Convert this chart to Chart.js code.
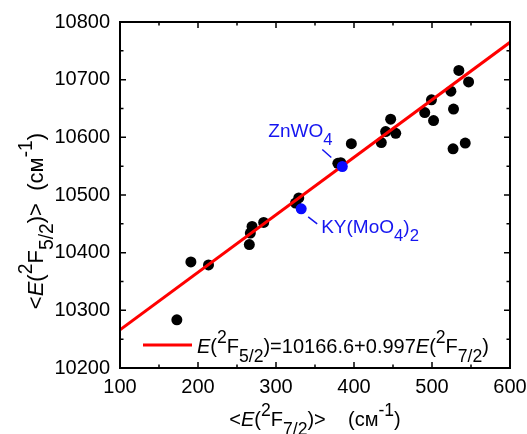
<!DOCTYPE html>
<html lang="en">
<head>
<meta charset="UTF-8">
<title>E(2F5/2) vs E(2F7/2)</title>
<style>
  body { margin: 0; background: #fff; }
  canvas { display: block; }
</style>
<script src="https://cdn.jsdelivr.net/npm/chart.js"></script>
</head>
<body>
<canvas id="fitChart" width="527" height="434"></canvas>
<script>
// black points: <E(2F7/2)> and <E(2F5/2)> in cm-1
const blackX = [172.9, 190.9, 213.5, 265.8, 267.1, 269.3, 284.2, 325, 329.2, 379.3, 383,
  396.6, 435, 440.6, 447, 453.5, 490.7, 499.3, 502, 524.2, 527.6, 527, 534.4, 542.6, 546.9];
const blackY = [10283.5, 10383.9, 10378.7, 10414, 10434, 10445.5, 10452.5, 10486, 10495, 10555, 10556,
  10589, 10591, 10610, 10631.5, 10607, 10643, 10665, 10629, 10680, 10649, 10580, 10716, 10590, 10696];

// highlighted crystals
const blueNames = ["ZnWO4", "KY(MoO4)2"];
const blueX = [385, 332.3];
const blueY = [10549.4, 10476];

// fitted line ends
const fitX = [100, 600];
const fitY = [10266.3, 10764.8];

const xTicks = [100, 200, 300, 400, 500, 600];
const yTicks = [10200, 10300, 10400, 10500, 10600, 10700, 10800];

const FONT = '"Liberation Sans", Arial, sans-serif';

function pts(xs, ys) {
  return xs.map((x, i) => ({ x: x, y: ys[i] }));
}

// draw text made of pieces: n = normal, i = italic, sup, sub
function richText(ctx, segs, x, y, size, align) {
  const small = size * 0.88;
  const fontOf = s => {
    if (s.k === 'i') return 'italic ' + size + 'px ' + FONT;
    if (s.k === 'sup' || s.k === 'sub') return small + 'px ' + FONT;
    return size + 'px ' + FONT;
  };
  let total = 0;
  segs.forEach(s => { ctx.font = fontOf(s); total += ctx.measureText(s.t).width; });
  let cx = align === 'center' ? x - total / 2 : x;
  ctx.textAlign = 'left';
  ctx.textBaseline = 'alphabetic';
  segs.forEach(s => {
    ctx.font = fontOf(s);
    let dy = 0;
    if (s.k === 'sup') dy = -size * 0.5;
    if (s.k === 'sub') dy = size * 0.45;
    ctx.fillText(s.t, cx, y + dy);
    cx += ctx.measureText(s.t).width;
  });
}

const xTitle = [
  { t: '<' }, { t: 'E', k: 'i' }, { t: '(' }, { t: '2', k: 'sup' }, { t: 'F' }, { t: '7/2', k: 'sub' },
  { t: ')>    (см' }, { t: '-1', k: 'sup' }, { t: ')' }
];
const yTitle = [
  { t: '<' }, { t: 'E', k: 'i' }, { t: '(' }, { t: '2', k: 'sup' }, { t: 'F' }, { t: '5/2', k: 'sub' },
  { t: ')>  (см' }, { t: '-1', k: 'sup' }, { t: ')' }
];
const legendText = [
  { t: 'E', k: 'i' }, { t: '(' }, { t: '2', k: 'sup' }, { t: 'F' }, { t: '5/2', k: 'sub' },
  { t: ')=10166.6+0.997' }, { t: 'E', k: 'i' }, { t: '(' }, { t: '2', k: 'sup' }, { t: 'F' },
  { t: '7/2', k: 'sub' }, { t: ')' }
];
const blueLabels = [
  [{ t: 'ZnWO' }, { t: '4', k: 'sub' }],
  [{ t: 'KY(MoO' }, { t: '4', k: 'sub' }, { t: ')' }, { t: '2', k: 'sub' }]
];

const decor = {
  id: 'decor',
  afterDraw(chart) {
    const ctx = chart.ctx;
    const a = chart.chartArea;
    const xs = chart.scales.x, ys = chart.scales.y;
    ctx.save();

    // frame
    ctx.strokeStyle = '#000';
    ctx.lineWidth = 2;
    ctx.strokeRect(a.left, a.top, a.right - a.left, a.bottom - a.top);

    // inward ticks on all four sides
    ctx.lineWidth = 1.5;
    ctx.beginPath();
    for (let v = xs.min; v <= xs.max; v += 50) {
      const p = xs.getPixelForValue(v);
      const len = v % 100 === 0 ? 6 : 3.5;
      ctx.moveTo(p, a.bottom); ctx.lineTo(p, a.bottom - len);
      ctx.moveTo(p, a.top); ctx.lineTo(p, a.top + len);
    }
    for (let v = ys.min; v <= ys.max; v += 50) {
      const p = ys.getPixelForValue(v);
      const len = v % 100 === 0 ? 6 : 3.5;
      ctx.moveTo(a.left, p); ctx.lineTo(a.left + len, p);
      ctx.moveTo(a.right, p); ctx.lineTo(a.right - len, p);
    }
    ctx.stroke();

    // axis titles
    ctx.fillStyle = '#000';
    richText(ctx, xTitle, (a.left + a.right) / 2, 426, 20, 'center');
    ctx.save();
    ctx.translate(43, 221);
    ctx.rotate(-Math.PI / 2);
    richText(ctx, yTitle, 0, 0, 22, 'center');
    ctx.restore();

    // legend
    ctx.strokeStyle = '#f00';
    ctx.lineWidth = 3;
    ctx.beginPath();
    ctx.moveTo(a.left + 23, a.bottom - 23);
    ctx.lineTo(a.left + 72, a.bottom - 23);
    ctx.stroke();
    ctx.fillStyle = '#000';
    richText(ctx, legendText, a.left + 77, a.bottom - 15.5, 20, 'left');

    // blue labels with leader lines
    const meta = chart.getDatasetMeta(2);
    const p0 = meta.data[0], p1 = meta.data[1];
    ctx.strokeStyle = '#1515f0';
    ctx.fillStyle = '#1515f0';
    ctx.lineWidth = 1.5;
    ctx.beginPath();
    ctx.moveTo(p0.x - 20, p0.y - 17); ctx.lineTo(p0.x - 11, p0.y - 9);
    ctx.moveTo(p1.x + 7, p1.y + 8); ctx.lineTo(p1.x + 16, p1.y + 15);
    ctx.stroke();
    richText(ctx, blueLabels[0], p0.x - 74, p0.y - 30, 19, 'left');
    richText(ctx, blueLabels[1], p1.x + 20, p1.y + 24, 19, 'left');

    ctx.restore();
  }
};

new Chart(document.getElementById('fitChart'), {
  type: 'scatter',
  data: {
    datasets: [
      {
        label: 'crystals',
        data: pts(blackX, blackY),
        backgroundColor: '#000',
        borderWidth: 0,
        pointRadius: 5.5,
        order: 3
      },
      {
        type: 'line',
        label: 'fit',
        data: pts(fitX, fitY),
        borderColor: '#f00',
        borderWidth: 3,
        pointRadius: 0,
        fill: false,
        order: 2
      },
      {
        label: blueNames.join(', '),
        data: pts(blueX, blueY),
        backgroundColor: '#0a0aff',
        borderWidth: 0,
        pointRadius: 5.5,
        order: 1
      }
    ]
  },
  options: {
    responsive: false,
    animation: false,
    layout: { padding: { top: 22, right: 17, left: 0, bottom: 0 } },
    plugins: { legend: { display: false }, tooltip: { enabled: false } },
    scales: {
      x: {
        type: 'linear',
        min: 100, max: 600,
        afterFit: s => { s.height = 66; s.paddingLeft = 0; s.paddingRight = 0; },
        afterBuildTicks: s => { s.ticks = xTicks.map(v => ({ value: v })); },
        grid: { display: false, drawTicks: false },
        border: { display: false },
        ticks: { color: '#000', padding: 7, maxRotation: 0, font: { family: FONT, size: 20 } }
      },
      y: {
        type: 'linear',
        min: 10200, max: 10800,
        afterFit: s => { s.width = 120; s.paddingTop = 0; s.paddingBottom = 0; },
        afterBuildTicks: s => { s.ticks = yTicks.map(v => ({ value: v })); },
        grid: { display: false, drawTicks: false },
        border: { display: false },
        ticks: { color: '#000', padding: 10, font: { family: FONT, size: 20 }, callback: v => String(v) }
      }
    }
  },
  plugins: [decor]
});
</script>
</body>
</html>
